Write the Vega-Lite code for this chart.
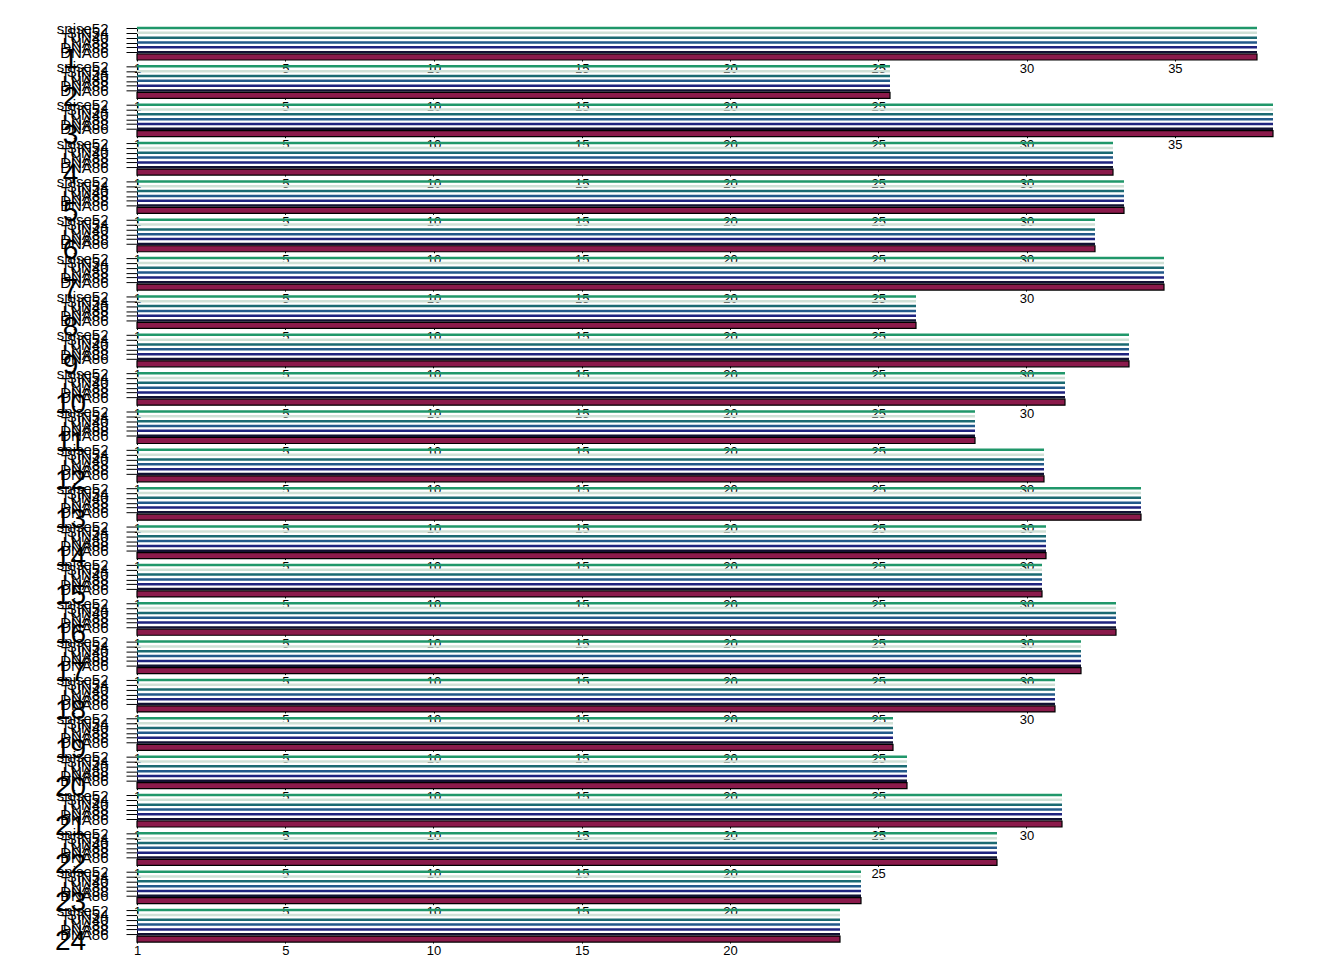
{
"$schema":"https://vega.github.io/schema/vega-lite/v6.json",
"padding":{"left":54,"top":21,"right":5,"bottom":5},
"bounds":"flush",
"spacing":9.35,
"datasets":{"d":[
{"c":1,"t":"snise52","s":0,"e":37.77},{"c":1,"t":"SIN54","s":0,"e":37.77},{"c":1,"t":"TUN40","s":0,"e":37.77},{"c":1,"t":"LNA88","s":0,"e":37.77},{"c":1,"t":"DNA88","s":0,"e":37.77},{"c":1,"t":"DNA86","s":0,"e":37.77},{"c":1,"t":"ideo","s":0,"e":37.77},
{"c":2,"t":"snise52","s":0,"e":25.40},{"c":2,"t":"SIN54","s":0,"e":25.40},{"c":2,"t":"TUN40","s":0,"e":25.40},{"c":2,"t":"LNA88","s":0,"e":25.40},{"c":2,"t":"DNA88","s":0,"e":25.40},{"c":2,"t":"DNA86","s":0,"e":25.40},{"c":2,"t":"ideo","s":0,"e":25.40},
{"c":3,"t":"snise52","s":0,"e":38.31},{"c":3,"t":"SIN54","s":0,"e":38.31},{"c":3,"t":"TUN40","s":0,"e":38.31},{"c":3,"t":"LNA88","s":0,"e":38.31},{"c":3,"t":"DNA88","s":0,"e":38.31},{"c":3,"t":"DNA86","s":0,"e":38.31},{"c":3,"t":"ideo","s":0,"e":38.31},
{"c":4,"t":"snise52","s":0,"e":32.92},{"c":4,"t":"SIN54","s":0,"e":32.92},{"c":4,"t":"TUN40","s":0,"e":32.92},{"c":4,"t":"LNA88","s":0,"e":32.92},{"c":4,"t":"DNA88","s":0,"e":32.92},{"c":4,"t":"DNA86","s":0,"e":32.92},{"c":4,"t":"ideo","s":0,"e":32.92},
{"c":5,"t":"snise52","s":0,"e":33.29},{"c":5,"t":"SIN54","s":0,"e":33.29},{"c":5,"t":"TUN40","s":0,"e":33.29},{"c":5,"t":"LNA88","s":0,"e":33.29},{"c":5,"t":"DNA88","s":0,"e":33.29},{"c":5,"t":"DNA86","s":0,"e":33.29},{"c":5,"t":"ideo","s":0,"e":33.29},
{"c":6,"t":"snise52","s":0,"e":32.31},{"c":6,"t":"SIN54","s":0,"e":32.31},{"c":6,"t":"TUN40","s":0,"e":32.31},{"c":6,"t":"LNA88","s":0,"e":32.31},{"c":6,"t":"DNA88","s":0,"e":32.31},{"c":6,"t":"DNA86","s":0,"e":32.31},{"c":6,"t":"ideo","s":0,"e":32.31},
{"c":7,"t":"snise52","s":0,"e":34.64},{"c":7,"t":"SIN54","s":0,"e":34.64},{"c":7,"t":"TUN40","s":0,"e":34.64},{"c":7,"t":"LNA88","s":0,"e":34.64},{"c":7,"t":"DNA88","s":0,"e":34.64},{"c":7,"t":"DNA86","s":0,"e":34.64},{"c":7,"t":"ideo","s":0,"e":34.64},
{"c":8,"t":"snise52","s":0,"e":26.27},{"c":8,"t":"SIN54","s":0,"e":26.27},{"c":8,"t":"TUN40","s":0,"e":26.27},{"c":8,"t":"LNA88","s":0,"e":26.27},{"c":8,"t":"DNA88","s":0,"e":26.27},{"c":8,"t":"DNA86","s":0,"e":26.27},{"c":8,"t":"ideo","s":0,"e":26.27},
{"c":9,"t":"snise52","s":0,"e":33.46},{"c":9,"t":"SIN54","s":0,"e":33.46},{"c":9,"t":"TUN40","s":0,"e":33.46},{"c":9,"t":"LNA88","s":0,"e":33.46},{"c":9,"t":"DNA88","s":0,"e":33.46},{"c":9,"t":"DNA86","s":0,"e":33.46},{"c":9,"t":"ideo","s":0,"e":33.46},
{"c":10,"t":"snise52","s":0,"e":31.30},{"c":10,"t":"SIN54","s":0,"e":31.30},{"c":10,"t":"TUN40","s":0,"e":31.30},{"c":10,"t":"LNA88","s":0,"e":31.30},{"c":10,"t":"DNA88","s":0,"e":31.30},{"c":10,"t":"DNA86","s":0,"e":31.30},{"c":10,"t":"ideo","s":0,"e":31.30},
{"c":11,"t":"snise52","s":0,"e":28.26},{"c":11,"t":"SIN54","s":0,"e":28.26},{"c":11,"t":"TUN40","s":0,"e":28.26},{"c":11,"t":"LNA88","s":0,"e":28.26},{"c":11,"t":"DNA88","s":0,"e":28.26},{"c":11,"t":"DNA86","s":0,"e":28.26},{"c":11,"t":"ideo","s":0,"e":28.26},
{"c":12,"t":"snise52","s":0,"e":30.59},{"c":12,"t":"SIN54","s":0,"e":30.59},{"c":12,"t":"TUN40","s":0,"e":30.59},{"c":12,"t":"LNA88","s":0,"e":30.59},{"c":12,"t":"DNA88","s":0,"e":30.59},{"c":12,"t":"DNA86","s":0,"e":30.59},{"c":12,"t":"ideo","s":0,"e":30.59},
{"c":13,"t":"snise52","s":0,"e":33.86},{"c":13,"t":"SIN54","s":0,"e":33.86},{"c":13,"t":"TUN40","s":0,"e":33.86},{"c":13,"t":"LNA88","s":0,"e":33.86},{"c":13,"t":"DNA88","s":0,"e":33.86},{"c":13,"t":"DNA86","s":0,"e":33.86},{"c":13,"t":"ideo","s":0,"e":33.86},
{"c":14,"t":"snise52","s":0,"e":30.66},{"c":14,"t":"SIN54","s":0,"e":30.66},{"c":14,"t":"TUN40","s":0,"e":30.66},{"c":14,"t":"LNA88","s":0,"e":30.66},{"c":14,"t":"DNA88","s":0,"e":30.66},{"c":14,"t":"DNA86","s":0,"e":30.66},{"c":14,"t":"ideo","s":0,"e":30.66},
{"c":15,"t":"snise52","s":0,"e":30.52},{"c":15,"t":"SIN54","s":0,"e":30.52},{"c":15,"t":"TUN40","s":0,"e":30.52},{"c":15,"t":"LNA88","s":0,"e":30.52},{"c":15,"t":"DNA88","s":0,"e":30.52},{"c":15,"t":"DNA86","s":0,"e":30.52},{"c":15,"t":"ideo","s":0,"e":30.52},
{"c":16,"t":"snise52","s":0,"e":33.02},{"c":16,"t":"SIN54","s":0,"e":33.02},{"c":16,"t":"TUN40","s":0,"e":33.02},{"c":16,"t":"LNA88","s":0,"e":33.02},{"c":16,"t":"DNA88","s":0,"e":33.02},{"c":16,"t":"DNA86","s":0,"e":33.02},{"c":16,"t":"ideo","s":0,"e":33.02},
{"c":17,"t":"snise52","s":0,"e":31.84},{"c":17,"t":"SIN54","s":0,"e":31.84},{"c":17,"t":"TUN40","s":0,"e":31.84},{"c":17,"t":"LNA88","s":0,"e":31.84},{"c":17,"t":"DNA88","s":0,"e":31.84},{"c":17,"t":"DNA86","s":0,"e":31.84},{"c":17,"t":"ideo","s":0,"e":31.84},
{"c":18,"t":"snise52","s":0,"e":30.96},{"c":18,"t":"SIN54","s":0,"e":30.96},{"c":18,"t":"TUN40","s":0,"e":30.96},{"c":18,"t":"LNA88","s":0,"e":30.96},{"c":18,"t":"DNA88","s":0,"e":30.96},{"c":18,"t":"DNA86","s":0,"e":30.96},{"c":18,"t":"ideo","s":0,"e":30.96},
{"c":19,"t":"snise52","s":0,"e":25.50},{"c":19,"t":"SIN54","s":0,"e":25.50},{"c":19,"t":"TUN40","s":0,"e":25.50},{"c":19,"t":"LNA88","s":0,"e":25.50},{"c":19,"t":"DNA88","s":0,"e":25.50},{"c":19,"t":"DNA86","s":0,"e":25.50},{"c":19,"t":"ideo","s":0,"e":25.50},
{"c":20,"t":"snise52","s":0,"e":25.97},{"c":20,"t":"SIN54","s":0,"e":25.97},{"c":20,"t":"TUN40","s":0,"e":25.97},{"c":20,"t":"LNA88","s":0,"e":25.97},{"c":20,"t":"DNA88","s":0,"e":25.97},{"c":20,"t":"DNA86","s":0,"e":25.97},{"c":20,"t":"ideo","s":0,"e":25.97},
{"c":21,"t":"snise52","s":0,"e":31.20},{"c":21,"t":"SIN54","s":0,"e":31.20},{"c":21,"t":"TUN40","s":0,"e":31.20},{"c":21,"t":"LNA88","s":0,"e":31.20},{"c":21,"t":"DNA88","s":0,"e":31.20},{"c":21,"t":"DNA86","s":0,"e":31.20},{"c":21,"t":"ideo","s":0,"e":31.20},
{"c":22,"t":"snise52","s":0,"e":29.01},{"c":22,"t":"SIN54","s":0,"e":29.01},{"c":22,"t":"TUN40","s":0,"e":29.01},{"c":22,"t":"LNA88","s":0,"e":29.01},{"c":22,"t":"DNA88","s":0,"e":29.01},{"c":22,"t":"DNA86","s":0,"e":29.01},{"c":22,"t":"ideo","s":0,"e":29.01},
{"c":23,"t":"snise52","s":0,"e":24.42},{"c":23,"t":"SIN54","s":0,"e":24.42},{"c":23,"t":"TUN40","s":0,"e":24.42},{"c":23,"t":"LNA88","s":0,"e":24.42},{"c":23,"t":"DNA88","s":0,"e":24.42},{"c":23,"t":"DNA86","s":0,"e":24.42},{"c":23,"t":"ideo","s":0,"e":24.42},
{"c":24,"t":"snise52","s":0,"e":23.71},{"c":24,"t":"SIN54","s":0,"e":23.71},{"c":24,"t":"TUN40","s":0,"e":23.71},{"c":24,"t":"LNA88","s":0,"e":23.71},{"c":24,"t":"DNA88","s":0,"e":23.71},{"c":24,"t":"DNA86","s":0,"e":23.71},{"c":24,"t":"ideo","s":0,"e":23.71}
]},
"data":{"name":"d"},
"vconcat":[
{"width":1120,"height":29,"transform":[{"filter":"datum.c==1"}],"encoding":{"x":{"field":"s","type":"quantitative","scale":{"nice":false},"axis":{"title":null,"tickMinStep":5,"labelExpr":"datum.value===0?'1':datum.label"}},"x2":{"field":"e"},"y":{"field":"t","type":"nominal","scale":{"type":"point","padding":0,"domain":["snise52","SIN54","TUN40","LNA88","DNA88","DNA86","ideo"]},"axis":{"title":"1","values":["snise52","SIN54","TUN40","LNA88","DNA88","DNA86"]}}},"layer":[{"transform":[{"filter":"datum.t!='ideo'"}],"mark":{"type":"rule","strokeWidth":2.5},"encoding":{"color":{"field":"t","type":"nominal"}}},{"transform":[{"filter":"datum.t=='ideo'"}],"mark":{"type":"bar","size":6,"color":"#8b1a4b","stroke":"#000","strokeWidth":1.2}}]},
{"width":753,"height":29,"transform":[{"filter":"datum.c==2"}],"encoding":{"x":{"field":"s","type":"quantitative","scale":{"nice":false},"axis":{"title":null,"tickMinStep":5,"labelExpr":"datum.value===0?'1':datum.label"}},"x2":{"field":"e"},"y":{"field":"t","type":"nominal","scale":{"type":"point","padding":0,"domain":["snise52","SIN54","TUN40","LNA88","DNA88","DNA86","ideo"]},"axis":{"title":"2","values":["snise52","SIN54","TUN40","LNA88","DNA88","DNA86"]}}},"layer":[{"transform":[{"filter":"datum.t!='ideo'"}],"mark":{"type":"rule","strokeWidth":2.5},"encoding":{"color":{"field":"t","type":"nominal"}}},{"transform":[{"filter":"datum.t=='ideo'"}],"mark":{"type":"bar","size":6,"color":"#8b1a4b","stroke":"#000","strokeWidth":1.2}}]},
{"width":1136,"height":29,"transform":[{"filter":"datum.c==3"}],"encoding":{"x":{"field":"s","type":"quantitative","scale":{"nice":false},"axis":{"title":null,"tickMinStep":5,"labelExpr":"datum.value===0?'1':datum.label"}},"x2":{"field":"e"},"y":{"field":"t","type":"nominal","scale":{"type":"point","padding":0,"domain":["snise52","SIN54","TUN40","LNA88","DNA88","DNA86","ideo"]},"axis":{"title":"3","values":["snise52","SIN54","TUN40","LNA88","DNA88","DNA86"]}}},"layer":[{"transform":[{"filter":"datum.t!='ideo'"}],"mark":{"type":"rule","strokeWidth":2.5},"encoding":{"color":{"field":"t","type":"nominal"}}},{"transform":[{"filter":"datum.t=='ideo'"}],"mark":{"type":"bar","size":6,"color":"#8b1a4b","stroke":"#000","strokeWidth":1.2}}]},
{"width":976,"height":29,"transform":[{"filter":"datum.c==4"}],"encoding":{"x":{"field":"s","type":"quantitative","scale":{"nice":false},"axis":{"title":null,"tickMinStep":5,"labelExpr":"datum.value===0?'1':datum.label"}},"x2":{"field":"e"},"y":{"field":"t","type":"nominal","scale":{"type":"point","padding":0,"domain":["snise52","SIN54","TUN40","LNA88","DNA88","DNA86","ideo"]},"axis":{"title":"4","values":["snise52","SIN54","TUN40","LNA88","DNA88","DNA86"]}}},"layer":[{"transform":[{"filter":"datum.t!='ideo'"}],"mark":{"type":"rule","strokeWidth":2.5},"encoding":{"color":{"field":"t","type":"nominal"}}},{"transform":[{"filter":"datum.t=='ideo'"}],"mark":{"type":"bar","size":6,"color":"#8b1a4b","stroke":"#000","strokeWidth":1.2}}]},
{"width":987,"height":29,"transform":[{"filter":"datum.c==5"}],"encoding":{"x":{"field":"s","type":"quantitative","scale":{"nice":false},"axis":{"title":null,"tickMinStep":5,"labelExpr":"datum.value===0?'1':datum.label"}},"x2":{"field":"e"},"y":{"field":"t","type":"nominal","scale":{"type":"point","padding":0,"domain":["snise52","SIN54","TUN40","LNA88","DNA88","DNA86","ideo"]},"axis":{"title":"5","values":["snise52","SIN54","TUN40","LNA88","DNA88","DNA86"]}}},"layer":[{"transform":[{"filter":"datum.t!='ideo'"}],"mark":{"type":"rule","strokeWidth":2.5},"encoding":{"color":{"field":"t","type":"nominal"}}},{"transform":[{"filter":"datum.t=='ideo'"}],"mark":{"type":"bar","size":6,"color":"#8b1a4b","stroke":"#000","strokeWidth":1.2}}]},
{"width":958,"height":29,"transform":[{"filter":"datum.c==6"}],"encoding":{"x":{"field":"s","type":"quantitative","scale":{"nice":false},"axis":{"title":null,"tickMinStep":5,"labelExpr":"datum.value===0?'1':datum.label"}},"x2":{"field":"e"},"y":{"field":"t","type":"nominal","scale":{"type":"point","padding":0,"domain":["snise52","SIN54","TUN40","LNA88","DNA88","DNA86","ideo"]},"axis":{"title":"6","values":["snise52","SIN54","TUN40","LNA88","DNA88","DNA86"]}}},"layer":[{"transform":[{"filter":"datum.t!='ideo'"}],"mark":{"type":"rule","strokeWidth":2.5},"encoding":{"color":{"field":"t","type":"nominal"}}},{"transform":[{"filter":"datum.t=='ideo'"}],"mark":{"type":"bar","size":6,"color":"#8b1a4b","stroke":"#000","strokeWidth":1.2}}]},
{"width":1027,"height":29,"transform":[{"filter":"datum.c==7"}],"encoding":{"x":{"field":"s","type":"quantitative","scale":{"nice":false},"axis":{"title":null,"tickMinStep":5,"labelExpr":"datum.value===0?'1':datum.label"}},"x2":{"field":"e"},"y":{"field":"t","type":"nominal","scale":{"type":"point","padding":0,"domain":["snise52","SIN54","TUN40","LNA88","DNA88","DNA86","ideo"]},"axis":{"title":"7","values":["snise52","SIN54","TUN40","LNA88","DNA88","DNA86"]}}},"layer":[{"transform":[{"filter":"datum.t!='ideo'"}],"mark":{"type":"rule","strokeWidth":2.5},"encoding":{"color":{"field":"t","type":"nominal"}}},{"transform":[{"filter":"datum.t=='ideo'"}],"mark":{"type":"bar","size":6,"color":"#8b1a4b","stroke":"#000","strokeWidth":1.2}}]},
{"width":779,"height":29,"transform":[{"filter":"datum.c==8"}],"encoding":{"x":{"field":"s","type":"quantitative","scale":{"nice":false},"axis":{"title":null,"tickMinStep":5,"labelExpr":"datum.value===0?'1':datum.label"}},"x2":{"field":"e"},"y":{"field":"t","type":"nominal","scale":{"type":"point","padding":0,"domain":["snise52","SIN54","TUN40","LNA88","DNA88","DNA86","ideo"]},"axis":{"title":"8","values":["snise52","SIN54","TUN40","LNA88","DNA88","DNA86"]}}},"layer":[{"transform":[{"filter":"datum.t!='ideo'"}],"mark":{"type":"rule","strokeWidth":2.5},"encoding":{"color":{"field":"t","type":"nominal"}}},{"transform":[{"filter":"datum.t=='ideo'"}],"mark":{"type":"bar","size":6,"color":"#8b1a4b","stroke":"#000","strokeWidth":1.2}}]},
{"width":992,"height":29,"transform":[{"filter":"datum.c==9"}],"encoding":{"x":{"field":"s","type":"quantitative","scale":{"nice":false},"axis":{"title":null,"tickMinStep":5,"labelExpr":"datum.value===0?'1':datum.label"}},"x2":{"field":"e"},"y":{"field":"t","type":"nominal","scale":{"type":"point","padding":0,"domain":["snise52","SIN54","TUN40","LNA88","DNA88","DNA86","ideo"]},"axis":{"title":"9","values":["snise52","SIN54","TUN40","LNA88","DNA88","DNA86"]}}},"layer":[{"transform":[{"filter":"datum.t!='ideo'"}],"mark":{"type":"rule","strokeWidth":2.5},"encoding":{"color":{"field":"t","type":"nominal"}}},{"transform":[{"filter":"datum.t=='ideo'"}],"mark":{"type":"bar","size":6,"color":"#8b1a4b","stroke":"#000","strokeWidth":1.2}}]},
{"width":928,"height":29,"transform":[{"filter":"datum.c==10"}],"encoding":{"x":{"field":"s","type":"quantitative","scale":{"nice":false},"axis":{"title":null,"tickMinStep":5,"labelExpr":"datum.value===0?'1':datum.label"}},"x2":{"field":"e"},"y":{"field":"t","type":"nominal","scale":{"type":"point","padding":0,"domain":["snise52","SIN54","TUN40","LNA88","DNA88","DNA86","ideo"]},"axis":{"title":"10","values":["snise52","SIN54","TUN40","LNA88","DNA88","DNA86"]}}},"layer":[{"transform":[{"filter":"datum.t!='ideo'"}],"mark":{"type":"rule","strokeWidth":2.5},"encoding":{"color":{"field":"t","type":"nominal"}}},{"transform":[{"filter":"datum.t=='ideo'"}],"mark":{"type":"bar","size":6,"color":"#8b1a4b","stroke":"#000","strokeWidth":1.2}}]},
{"width":838,"height":29,"transform":[{"filter":"datum.c==11"}],"encoding":{"x":{"field":"s","type":"quantitative","scale":{"nice":false},"axis":{"title":null,"tickMinStep":5,"labelExpr":"datum.value===0?'1':datum.label"}},"x2":{"field":"e"},"y":{"field":"t","type":"nominal","scale":{"type":"point","padding":0,"domain":["snise52","SIN54","TUN40","LNA88","DNA88","DNA86","ideo"]},"axis":{"title":"11","values":["snise52","SIN54","TUN40","LNA88","DNA88","DNA86"]}}},"layer":[{"transform":[{"filter":"datum.t!='ideo'"}],"mark":{"type":"rule","strokeWidth":2.5},"encoding":{"color":{"field":"t","type":"nominal"}}},{"transform":[{"filter":"datum.t=='ideo'"}],"mark":{"type":"bar","size":6,"color":"#8b1a4b","stroke":"#000","strokeWidth":1.2}}]},
{"width":907,"height":29,"transform":[{"filter":"datum.c==12"}],"encoding":{"x":{"field":"s","type":"quantitative","scale":{"nice":false},"axis":{"title":null,"tickMinStep":5,"labelExpr":"datum.value===0?'1':datum.label"}},"x2":{"field":"e"},"y":{"field":"t","type":"nominal","scale":{"type":"point","padding":0,"domain":["snise52","SIN54","TUN40","LNA88","DNA88","DNA86","ideo"]},"axis":{"title":"12","values":["snise52","SIN54","TUN40","LNA88","DNA88","DNA86"]}}},"layer":[{"transform":[{"filter":"datum.t!='ideo'"}],"mark":{"type":"rule","strokeWidth":2.5},"encoding":{"color":{"field":"t","type":"nominal"}}},{"transform":[{"filter":"datum.t=='ideo'"}],"mark":{"type":"bar","size":6,"color":"#8b1a4b","stroke":"#000","strokeWidth":1.2}}]},
{"width":1004,"height":29,"transform":[{"filter":"datum.c==13"}],"encoding":{"x":{"field":"s","type":"quantitative","scale":{"nice":false},"axis":{"title":null,"tickMinStep":5,"labelExpr":"datum.value===0?'1':datum.label"}},"x2":{"field":"e"},"y":{"field":"t","type":"nominal","scale":{"type":"point","padding":0,"domain":["snise52","SIN54","TUN40","LNA88","DNA88","DNA86","ideo"]},"axis":{"title":"13","values":["snise52","SIN54","TUN40","LNA88","DNA88","DNA86"]}}},"layer":[{"transform":[{"filter":"datum.t!='ideo'"}],"mark":{"type":"rule","strokeWidth":2.5},"encoding":{"color":{"field":"t","type":"nominal"}}},{"transform":[{"filter":"datum.t=='ideo'"}],"mark":{"type":"bar","size":6,"color":"#8b1a4b","stroke":"#000","strokeWidth":1.2}}]},
{"width":909,"height":29,"transform":[{"filter":"datum.c==14"}],"encoding":{"x":{"field":"s","type":"quantitative","scale":{"nice":false},"axis":{"title":null,"tickMinStep":5,"labelExpr":"datum.value===0?'1':datum.label"}},"x2":{"field":"e"},"y":{"field":"t","type":"nominal","scale":{"type":"point","padding":0,"domain":["snise52","SIN54","TUN40","LNA88","DNA88","DNA86","ideo"]},"axis":{"title":"14","values":["snise52","SIN54","TUN40","LNA88","DNA88","DNA86"]}}},"layer":[{"transform":[{"filter":"datum.t!='ideo'"}],"mark":{"type":"rule","strokeWidth":2.5},"encoding":{"color":{"field":"t","type":"nominal"}}},{"transform":[{"filter":"datum.t=='ideo'"}],"mark":{"type":"bar","size":6,"color":"#8b1a4b","stroke":"#000","strokeWidth":1.2}}]},
{"width":905,"height":29,"transform":[{"filter":"datum.c==15"}],"encoding":{"x":{"field":"s","type":"quantitative","scale":{"nice":false},"axis":{"title":null,"tickMinStep":5,"labelExpr":"datum.value===0?'1':datum.label"}},"x2":{"field":"e"},"y":{"field":"t","type":"nominal","scale":{"type":"point","padding":0,"domain":["snise52","SIN54","TUN40","LNA88","DNA88","DNA86","ideo"]},"axis":{"title":"15","values":["snise52","SIN54","TUN40","LNA88","DNA88","DNA86"]}}},"layer":[{"transform":[{"filter":"datum.t!='ideo'"}],"mark":{"type":"rule","strokeWidth":2.5},"encoding":{"color":{"field":"t","type":"nominal"}}},{"transform":[{"filter":"datum.t=='ideo'"}],"mark":{"type":"bar","size":6,"color":"#8b1a4b","stroke":"#000","strokeWidth":1.2}}]},
{"width":979,"height":29,"transform":[{"filter":"datum.c==16"}],"encoding":{"x":{"field":"s","type":"quantitative","scale":{"nice":false},"axis":{"title":null,"tickMinStep":5,"labelExpr":"datum.value===0?'1':datum.label"}},"x2":{"field":"e"},"y":{"field":"t","type":"nominal","scale":{"type":"point","padding":0,"domain":["snise52","SIN54","TUN40","LNA88","DNA88","DNA86","ideo"]},"axis":{"title":"16","values":["snise52","SIN54","TUN40","LNA88","DNA88","DNA86"]}}},"layer":[{"transform":[{"filter":"datum.t!='ideo'"}],"mark":{"type":"rule","strokeWidth":2.5},"encoding":{"color":{"field":"t","type":"nominal"}}},{"transform":[{"filter":"datum.t=='ideo'"}],"mark":{"type":"bar","size":6,"color":"#8b1a4b","stroke":"#000","strokeWidth":1.2}}]},
{"width":944,"height":29,"transform":[{"filter":"datum.c==17"}],"encoding":{"x":{"field":"s","type":"quantitative","scale":{"nice":false},"axis":{"title":null,"tickMinStep":5,"labelExpr":"datum.value===0?'1':datum.label"}},"x2":{"field":"e"},"y":{"field":"t","type":"nominal","scale":{"type":"point","padding":0,"domain":["snise52","SIN54","TUN40","LNA88","DNA88","DNA86","ideo"]},"axis":{"title":"17","values":["snise52","SIN54","TUN40","LNA88","DNA88","DNA86"]}}},"layer":[{"transform":[{"filter":"datum.t!='ideo'"}],"mark":{"type":"rule","strokeWidth":2.5},"encoding":{"color":{"field":"t","type":"nominal"}}},{"transform":[{"filter":"datum.t=='ideo'"}],"mark":{"type":"bar","size":6,"color":"#8b1a4b","stroke":"#000","strokeWidth":1.2}}]},
{"width":918,"height":29,"transform":[{"filter":"datum.c==18"}],"encoding":{"x":{"field":"s","type":"quantitative","scale":{"nice":false},"axis":{"title":null,"tickMinStep":5,"labelExpr":"datum.value===0?'1':datum.label"}},"x2":{"field":"e"},"y":{"field":"t","type":"nominal","scale":{"type":"point","padding":0,"domain":["snise52","SIN54","TUN40","LNA88","DNA88","DNA86","ideo"]},"axis":{"title":"18","values":["snise52","SIN54","TUN40","LNA88","DNA88","DNA86"]}}},"layer":[{"transform":[{"filter":"datum.t!='ideo'"}],"mark":{"type":"rule","strokeWidth":2.5},"encoding":{"color":{"field":"t","type":"nominal"}}},{"transform":[{"filter":"datum.t=='ideo'"}],"mark":{"type":"bar","size":6,"color":"#8b1a4b","stroke":"#000","strokeWidth":1.2}}]},
{"width":756,"height":29,"transform":[{"filter":"datum.c==19"}],"encoding":{"x":{"field":"s","type":"quantitative","scale":{"nice":false},"axis":{"title":null,"tickMinStep":5,"labelExpr":"datum.value===0?'1':datum.label"}},"x2":{"field":"e"},"y":{"field":"t","type":"nominal","scale":{"type":"point","padding":0,"domain":["snise52","SIN54","TUN40","LNA88","DNA88","DNA86","ideo"]},"axis":{"title":"19","values":["snise52","SIN54","TUN40","LNA88","DNA88","DNA86"]}}},"layer":[{"transform":[{"filter":"datum.t!='ideo'"}],"mark":{"type":"rule","strokeWidth":2.5},"encoding":{"color":{"field":"t","type":"nominal"}}},{"transform":[{"filter":"datum.t=='ideo'"}],"mark":{"type":"bar","size":6,"color":"#8b1a4b","stroke":"#000","strokeWidth":1.2}}]},
{"width":770,"height":29,"transform":[{"filter":"datum.c==20"}],"encoding":{"x":{"field":"s","type":"quantitative","scale":{"nice":false},"axis":{"title":null,"tickMinStep":5,"labelExpr":"datum.value===0?'1':datum.label"}},"x2":{"field":"e"},"y":{"field":"t","type":"nominal","scale":{"type":"point","padding":0,"domain":["snise52","SIN54","TUN40","LNA88","DNA88","DNA86","ideo"]},"axis":{"title":"20","values":["snise52","SIN54","TUN40","LNA88","DNA88","DNA86"]}}},"layer":[{"transform":[{"filter":"datum.t!='ideo'"}],"mark":{"type":"rule","strokeWidth":2.5},"encoding":{"color":{"field":"t","type":"nominal"}}},{"transform":[{"filter":"datum.t=='ideo'"}],"mark":{"type":"bar","size":6,"color":"#8b1a4b","stroke":"#000","strokeWidth":1.2}}]},
{"width":925,"height":29,"transform":[{"filter":"datum.c==21"}],"encoding":{"x":{"field":"s","type":"quantitative","scale":{"nice":false},"axis":{"title":null,"tickMinStep":5,"labelExpr":"datum.value===0?'1':datum.label"}},"x2":{"field":"e"},"y":{"field":"t","type":"nominal","scale":{"type":"point","padding":0,"domain":["snise52","SIN54","TUN40","LNA88","DNA88","DNA86","ideo"]},"axis":{"title":"21","values":["snise52","SIN54","TUN40","LNA88","DNA88","DNA86"]}}},"layer":[{"transform":[{"filter":"datum.t!='ideo'"}],"mark":{"type":"rule","strokeWidth":2.5},"encoding":{"color":{"field":"t","type":"nominal"}}},{"transform":[{"filter":"datum.t=='ideo'"}],"mark":{"type":"bar","size":6,"color":"#8b1a4b","stroke":"#000","strokeWidth":1.2}}]},
{"width":860,"height":29,"transform":[{"filter":"datum.c==22"}],"encoding":{"x":{"field":"s","type":"quantitative","scale":{"nice":false},"axis":{"title":null,"tickMinStep":5,"labelExpr":"datum.value===0?'1':datum.label"}},"x2":{"field":"e"},"y":{"field":"t","type":"nominal","scale":{"type":"point","padding":0,"domain":["snise52","SIN54","TUN40","LNA88","DNA88","DNA86","ideo"]},"axis":{"title":"22","values":["snise52","SIN54","TUN40","LNA88","DNA88","DNA86"]}}},"layer":[{"transform":[{"filter":"datum.t!='ideo'"}],"mark":{"type":"rule","strokeWidth":2.5},"encoding":{"color":{"field":"t","type":"nominal"}}},{"transform":[{"filter":"datum.t=='ideo'"}],"mark":{"type":"bar","size":6,"color":"#8b1a4b","stroke":"#000","strokeWidth":1.2}}]},
{"width":724,"height":29,"transform":[{"filter":"datum.c==23"}],"encoding":{"x":{"field":"s","type":"quantitative","scale":{"nice":false},"axis":{"title":null,"tickMinStep":5,"labelExpr":"datum.value===0?'1':datum.label"}},"x2":{"field":"e"},"y":{"field":"t","type":"nominal","scale":{"type":"point","padding":0,"domain":["snise52","SIN54","TUN40","LNA88","DNA88","DNA86","ideo"]},"axis":{"title":"23","values":["snise52","SIN54","TUN40","LNA88","DNA88","DNA86"]}}},"layer":[{"transform":[{"filter":"datum.t!='ideo'"}],"mark":{"type":"rule","strokeWidth":2.5},"encoding":{"color":{"field":"t","type":"nominal"}}},{"transform":[{"filter":"datum.t=='ideo'"}],"mark":{"type":"bar","size":6,"color":"#8b1a4b","stroke":"#000","strokeWidth":1.2}}]},
{"width":703,"height":29,"transform":[{"filter":"datum.c==24"}],"encoding":{"x":{"field":"s","type":"quantitative","scale":{"nice":false},"axis":{"title":null,"tickMinStep":5,"labelExpr":"datum.value===0?'1':datum.label"}},"x2":{"field":"e"},"y":{"field":"t","type":"nominal","scale":{"type":"point","padding":0,"domain":["snise52","SIN54","TUN40","LNA88","DNA88","DNA86","ideo"]},"axis":{"title":"24","values":["snise52","SIN54","TUN40","LNA88","DNA88","DNA86"]}}},"layer":[{"transform":[{"filter":"datum.t!='ideo'"}],"mark":{"type":"rule","strokeWidth":2.5},"encoding":{"color":{"field":"t","type":"nominal"}}},{"transform":[{"filter":"datum.t=='ideo'"}],"mark":{"type":"bar","size":6,"color":"#8b1a4b","stroke":"#000","strokeWidth":1.2}}]}
],
"config":{
"font":"Liberation Sans",
"view":{"stroke":null},
"legend":{"disable":true},
"range":{"category":["#111132","#1f237f","#23598a","#cfe0d6","#1b6a72","#20976a"]},
"axisX":{"domain":false,"grid":false,"tickColor":"#000","tickSize":4,"labelFontSize":13,"labelColor":"#000","labelPadding":1,"labelFlush":false,"labelOverlap":false},
"axisY":{"domain":true,"domainColor":"#000","grid":false,"tickColor":"#000","tickSize":11,"labelFontSize":15,"labelColor":"#000","labelPadding":18,"titleAngle":0,"titleFontSize":28,"titleFontWeight":"normal","titleColor":"#000","titleX":-67,"titleY":31,"titleAlign":"center","titleBaseline":"middle","titlePadding":0}
}
}
